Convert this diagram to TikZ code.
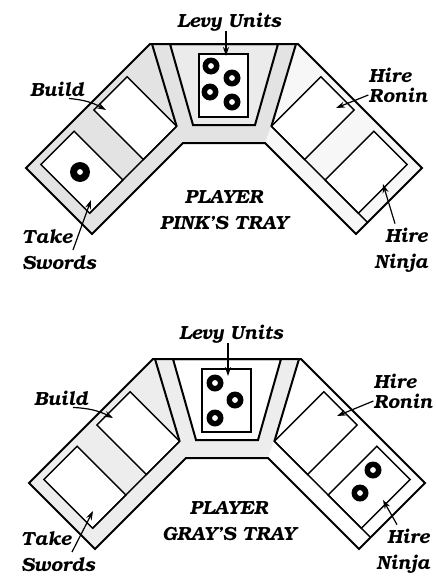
\documentclass[tikz,border=0pt]{standalone}
\usepackage[T1]{fontenc}
\usepackage{bookman}
\usepackage{xcolor}
\usetikzlibrary{arrows.meta,positioning}

\newcommand\lblfont{\fontsize{9.5}{13}\selectfont\bfseries\itshape}
\newcommand\ringtoken[2]{\fill (#1) circle (#2); \fill[white] (#1) circle (2.9);}

\tikzset{
  tray/.style={line width=1pt, line join=miter},
  slot/.style={line width=0.7pt, fill=white},
  lbl/.style={font=\lblfont, inner sep=0pt},
  arr/.style={line width=0.6pt, -{Stealth[length=4.5pt,width=3pt]}}
}

\begin{document}
\begin{tikzpicture}[x=0.5pt,y=-0.5pt]
  \useasboundingbox (0,0) rectangle (435,578);
  \foreach \t/\dx/\dy/\shl/\shr/\shc in {T/0/0/11/3/8, B/3/315/7/0/0} {
    \begin{scope}[shift={(\dx,\dy)}]
      \fill[black!\shl] (150,44) -- (298,44) -- (422,168) -- (356,234) -- (265,143)
        -- (183,143) -- (92,234) -- (26,168) -- cycle;
      \fill[black!\shr] (296,44) -- (422,168) -- (356,234) -- (265,143) -- (271,126) -- cycle;
      % left arm: take swords, build
      \begin{scope}[shift={(26,168)},rotate=45]
        \draw[slot] (13,8) rectangle (60,77);
        \draw[slot] (89,7) rectangle (136,77);
        \draw[slot] (13,77) -- (136,77);
        \coordinate (\t-ldiv) at (136,77);
      \end{scope}
      % right arm: hire ninja, hire ronin
      \begin{scope}[shift={(422,168)},rotate=-45,xscale=-1]
        \draw[slot] (13,8) rectangle (60,77);
        \draw[slot] (89,7) rectangle (136,77);
        \draw[slot] (0,77) -- (136,77);
        \coordinate (\t-rdiv) at (136,77);
      \end{scope}
      \draw[tray] (152,44) -- (\t-ldiv);
      \draw[tray] (296,44) -- (\t-rdiv);
      \draw[tray, fill=black!\shc] (170,44) -- (278,44) -- (255,125) -- (193,125) -- cycle;
      \draw[slot] (199,54) rectangle (248,117);
      \draw[tray] (150,44) -- (298,44) -- (422,168) -- (356,234) -- (265,143)
        -- (183,143) -- (92,234) -- (26,168) -- cycle;
    \end{scope}
  }

  % tokens
  \foreach \p in {{211,66}, {232,78}, {210,92}, {232,102}, {215,383}, {235,400}, {215,418},
                  {373,470}, {360,493}} {
    \ringtoken{\p}{8.5}
  }
  \ringtoken{80,172}{10}

  % player pink
  \node[lbl] (levyT) at (229,22) {Levy Units};
  \coordinate (levyTtip) at (226,56);
  \draw[arr] (levyT.south -| levyTtip) -- (levyTtip);
  \node[lbl] (buildT) at (57,89) {Build};
  \coordinate (buildTtip) at (106,110);
  \draw[arr] ([xshift=6pt,yshift=-1pt]buildT.south) to[bend left=12] (buildTtip);
  \node[lbl, align=left] (roninT) at (398,85) {Hire\\[-3pt]Ronin};
  \coordinate (roninTtip) at (336,108);
  \draw[arr] ([yshift=-5pt]roninT.west) -- (roninTtip);
  \node[lbl, align=right] (ninjaT) at (401,250) {Hire\\Ninja};
  \coordinate (ninjaTtip) at (383,184);
  \draw[arr] ([xshift=-3pt,yshift=2pt]ninjaT.north) -- (ninjaTtip);
  \node[lbl, align=left] (swordsT) at (59,250) {Take\\Swords};
  \coordinate (swordsTtip) at (91,200);
  \draw[arr] ([xshift=7pt]swordsT.center) -- (swordsTtip);
  \node[lbl, align=center] (playerT) at (224,210) {PLAYER\\PINK'S TRAY};

  % player gray
  \node[lbl] (levyB) at (231,334) {Levy Units};
  \coordinate (levyBtip) at (228,376);
  \draw[arr] (levyB.south -| levyBtip) -- (levyBtip);
  \node[lbl] (buildB) at (61,398) {Build};
  \coordinate (buildBtip) at (113,418);
  \draw[arr] ([xshift=6pt,yshift=-1pt]buildB.south) to[bend left=12] (buildBtip);
  \node[lbl, align=left] (roninB) at (403,391) {Hire\\[-3pt]Ronin};
  \coordinate (roninBtip) at (337,416);
  \draw[arr] ([yshift=-5pt]roninB.west) -- (roninBtip);
  \node[lbl, align=right] (ninjaB) at (403,551) {Hire\\Ninja};
  \coordinate (ninjaBtip) at (383,500);
  \draw[arr] ([xshift=-3pt,yshift=2pt]ninjaB.north) -- (ninjaBtip);
  \node[lbl, align=left] (swordsB) at (58,552) {Take\\Swords};
  \coordinate (swordsBtip) at (93,511);
  \draw[arr] ([xshift=7pt]swordsB.center) -- (swordsBtip);
  \node[lbl, align=center] (playerB) at (229,521) {PLAYER\\GRAY'S TRAY};
\end{tikzpicture}
\end{document}
